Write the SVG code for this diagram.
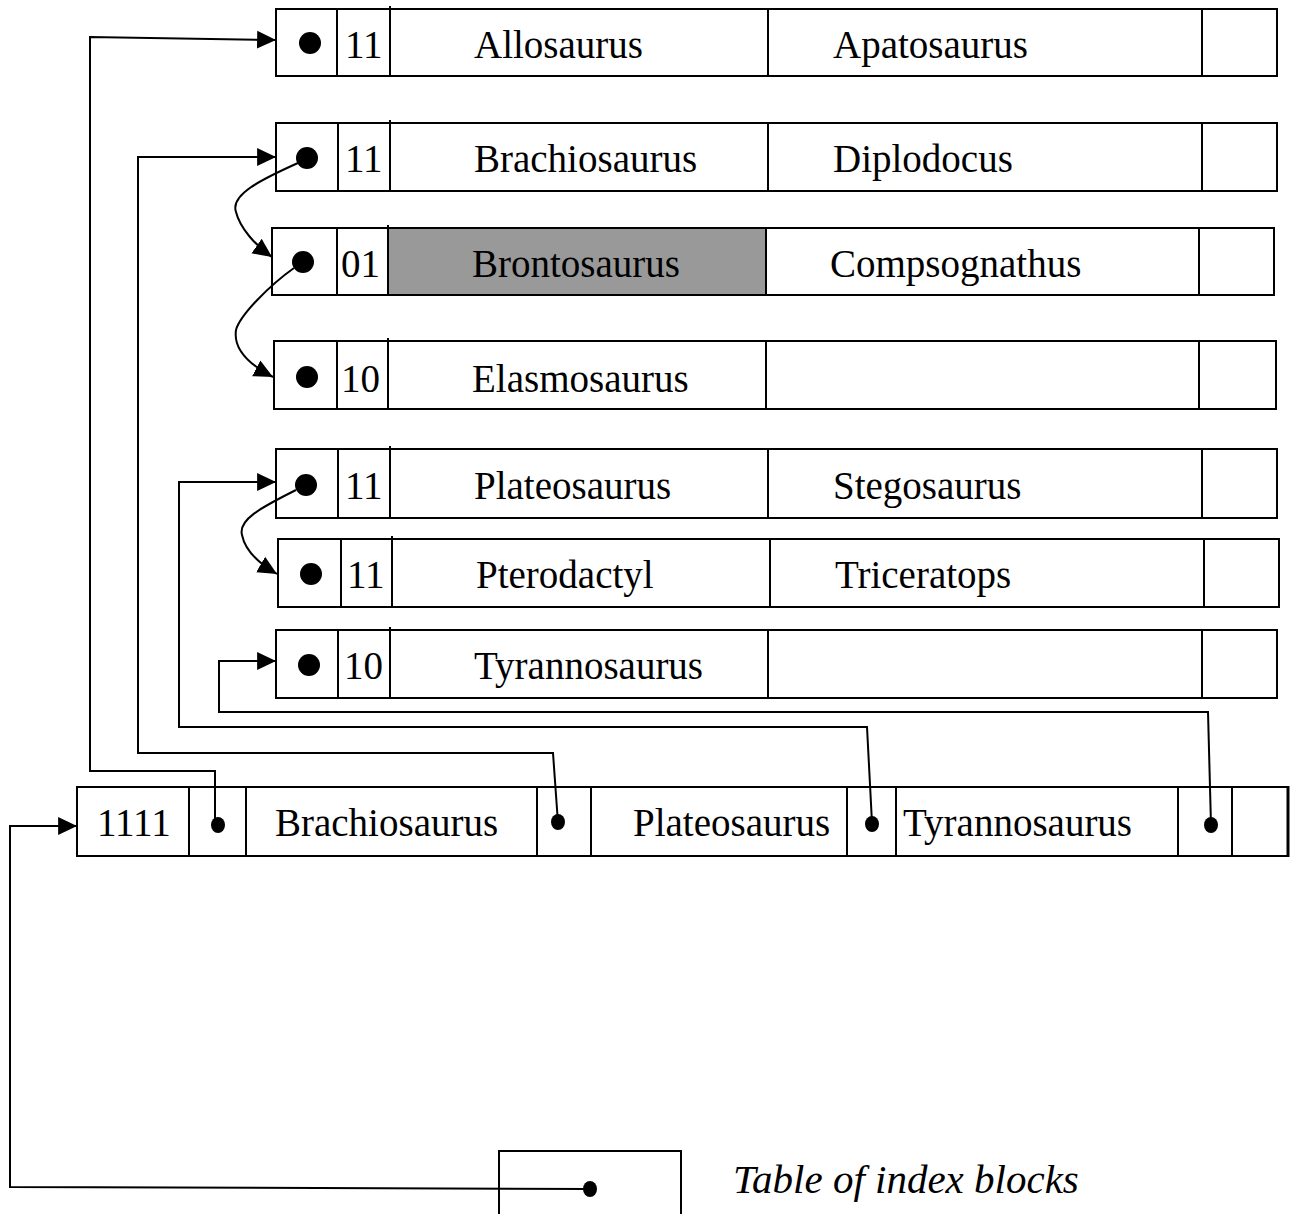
<svg xmlns="http://www.w3.org/2000/svg" width="1295" height="1214" viewBox="0 0 1295 1214">
<style>
.box{fill:#fff;stroke:#000;stroke-width:2}
.ln{stroke:#000;stroke-width:2;fill:none}
.t{font-family:"Liberation Serif","Times New Roman",serif;font-size:39px;fill:#000}
.it{font-style:italic;font-size:41px}
.dot{fill:#000}
.ar{stroke:#000;stroke-width:2;fill:none;marker-end:url(#ah)}
</style>
<defs>
<marker id="ah" markerUnits="userSpaceOnUse" markerWidth="20" markerHeight="20" viewBox="0 0 18 18" refX="17" refY="9" orient="auto">
<path d="M0,1 L17,9 L0,17 Z" fill="#000"/>
</marker>
</defs>
<rect width="1295" height="1214" fill="#fff"/>

<g id="row-allosaurus">
<rect class="box" x="276" y="9" width="1001" height="67"/>
<path class="ln" d="M337,9V76 M390,6V76 M768,9V76 M1202,9V76"/>
<circle class="dot" cx="310" cy="43" r="11"/>
<text class="t" x="345" y="58">11</text>
<text class="t" x="474" y="58">Allosaurus</text>
<text class="t" x="833" y="58">Apatosaurus</text>
</g>

<g id="row-brachiosaurus">
<rect class="box" x="276" y="123" width="1001" height="68"/>
<path class="ln" d="M338,123V191 M390,120V191 M768,123V191 M1202,123V191"/>
<circle class="dot" cx="307" cy="158" r="11"/>
<text class="t" x="345" y="172">11</text>
<text class="t" x="474" y="172">Brachiosaurus</text>
<text class="t" x="833" y="172">Diplodocus</text>
</g>

<g id="row-brontosaurus">
<rect class="box" x="272" y="228" width="1002" height="67"/>
<rect x="388" y="228" width="378" height="67" fill="#999"/>
<path class="ln" d="M272,228H1274 M272,295H1274 M337,228V295 M388,225V295 M766,228V295 M1199,228V295"/>
<circle class="dot" cx="303" cy="262" r="11"/>
<text class="t" x="341" y="277">01</text>
<text class="t" x="472" y="277">Brontosaurus</text>
<text class="t" x="830" y="277">Compsognathus</text>
</g>

<g id="row-elasmosaurus">
<rect class="box" x="274" y="341" width="1002" height="68"/>
<path class="ln" d="M337,341V409 M388,338V409 M766,341V409 M1199,341V409"/>
<circle class="dot" cx="307" cy="377" r="11"/>
<text class="t" x="341" y="392">10</text>
<text class="t" x="472" y="392">Elasmosaurus</text>
</g>

<g id="row-plateosaurus">
<rect class="box" x="276" y="449" width="1001" height="69"/>
<path class="ln" d="M338,449V518 M390,446V518 M768,449V518 M1202,449V518"/>
<circle class="dot" cx="306" cy="485" r="11"/>
<text class="t" x="345" y="499">11</text>
<text class="t" x="474" y="499">Plateosaurus</text>
<text class="t" x="833" y="499">Stegosaurus</text>
</g>

<g id="row-pterodactyl">
<rect class="box" x="278" y="539" width="1001" height="68"/>
<path class="ln" d="M341,539V607 M392,536V607 M770,539V607 M1204,539V607"/>
<circle class="dot" cx="311" cy="574" r="11"/>
<text class="t" x="347" y="588">11</text>
<text class="t" x="476" y="588">Pterodactyl</text>
<text class="t" x="835" y="588">Triceratops</text>
</g>

<g id="row-tyrannosaurus">
<rect class="box" x="276" y="630" width="1001" height="68"/>
<path class="ln" d="M338,630V698 M390,627V698 M768,630V698 M1202,630V698"/>
<circle class="dot" cx="309" cy="665" r="11"/>
<text class="t" x="344" y="679">10</text>
<text class="t" x="474" y="679">Tyrannosaurus</text>
</g>

<g id="index-block">
<rect class="box" x="77" y="787" width="1211" height="69"/>
<path class="ln" d="M189,787V856 M246,787V856 M537,787V856 M591,787V856 M847,787V856 M896,787V856 M1178,787V856 M1232,787V856"/>
<path d="M1288,786V857" stroke="#000" stroke-width="3"/>
<ellipse class="dot" cx="218" cy="825" rx="7" ry="8"/>
<ellipse class="dot" cx="558" cy="822" rx="7" ry="8"/>
<ellipse class="dot" cx="872" cy="824" rx="7" ry="8"/>
<ellipse class="dot" cx="1211" cy="825" rx="7" ry="8"/>
<text class="t" x="97" y="836">1111</text>
<text class="t" x="275" y="836">Brachiosaurus</text>
<text class="t" x="633" y="836">Plateosaurus</text>
<text class="t" x="903" y="836">Tyrannosaurus</text>
</g>

<g id="table-of-index-blocks">
<path class="ln" d="M499,1216V1151H681V1216"/>
<ellipse class="dot" cx="590" cy="1189" rx="7" ry="8"/>
<text class="t it" x="733" y="1193">Table of index blocks</text>
</g>

<g id="connectors">
<path class="ar" d="M215,825 L215,771 L90,771 L90,37 L276,40"/>
<path class="ar" d="M558,823 L553,753 L138,753 L138,157 L276,157"/>
<path class="ar" d="M872,823 L867,727 L179,727 L179,482 L276,482"/>
<path class="ar" d="M1211,825 L1208,712 L219,712 L219,661 L276,661"/>
<path class="ar" d="M590,1189 L10,1187 L10,826 L77,826"/>
<path class="ar" d="M298,163 C260,180 230,195 236,212 C240,228 255,245 272,257"/>
<path class="ar" d="M294,268 C270,285 240,315 236,330 C233,350 250,365 273,377"/>
<path class="ar" d="M296,490 C260,508 238,520 242,535 C245,550 258,563 277,574"/>
</g>
</svg>
